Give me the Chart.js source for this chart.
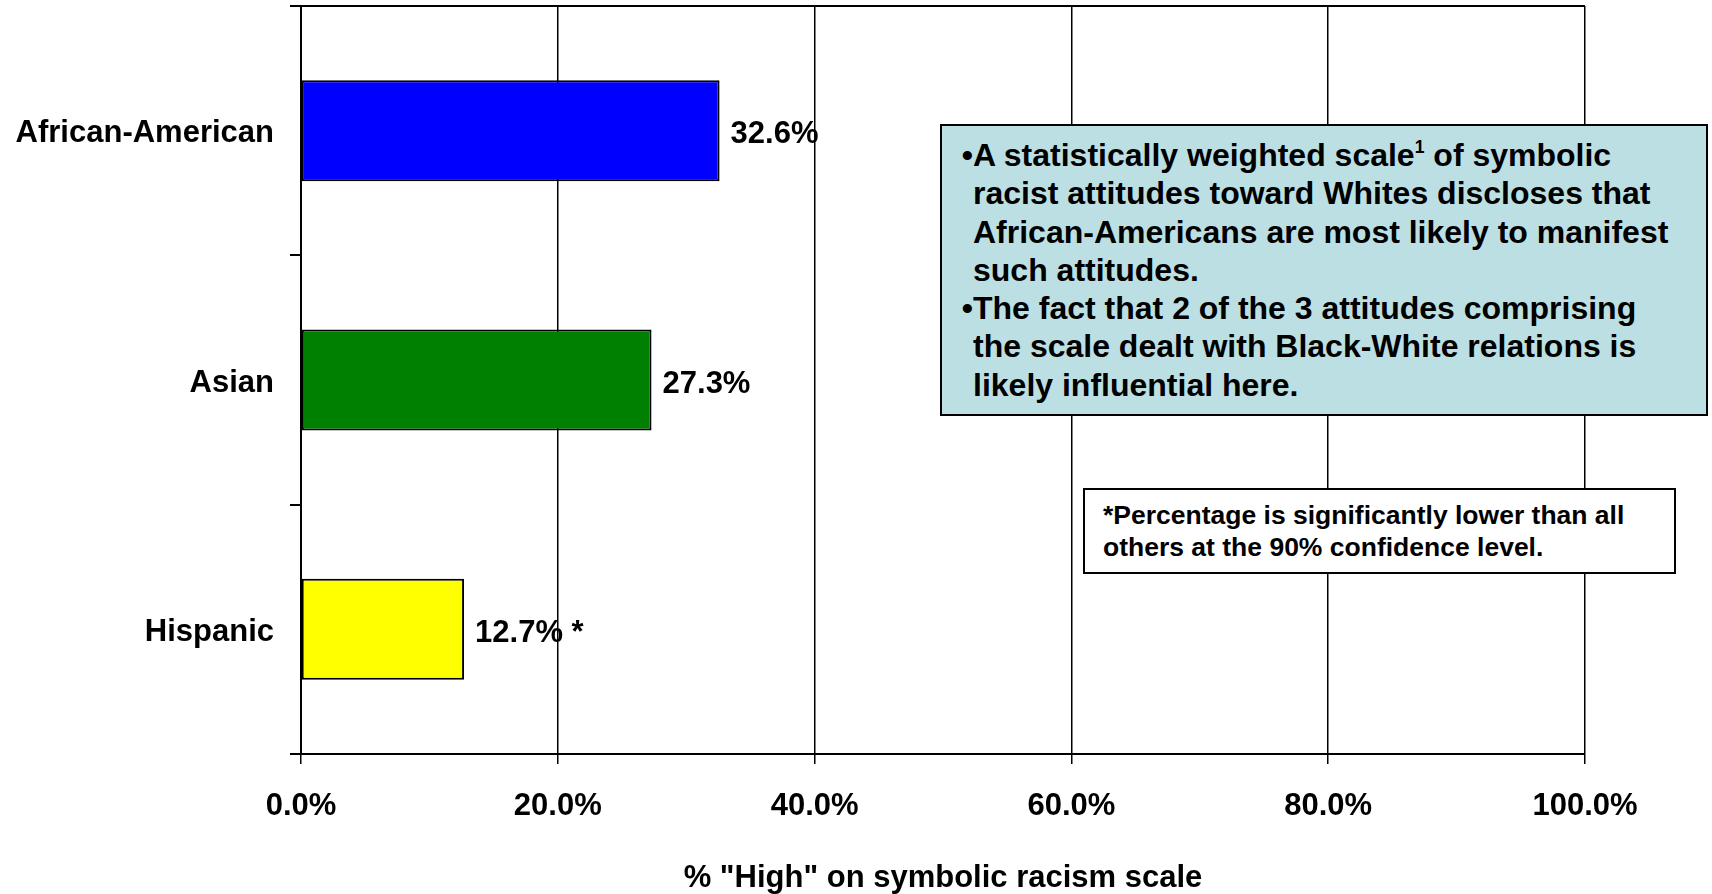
<!DOCTYPE html>
<html>
<head>
<meta charset="utf-8">
<script src="https://cdn.jsdelivr.net/npm/chart.js@4.4.1/dist/chart.umd.min.js"></script>
<style>
  html, body { margin: 0; padding: 0; background: #fff; }
  #wrap { position: relative; width: 1712px; height: 894px; font-family: 'Liberation Sans', Arial, sans-serif; }
  #wrap canvas { position: absolute; left: 0; top: 0; }
  .note-teal {
    position: absolute; left: 940px; top: 124px; width: 768px; height: 292px;
    box-sizing: border-box; border: 2px solid #000; background: #BCDFE3;
    padding: 10px 0 0 14px; font-weight: bold; font-size: 32px; line-height: 38.3px; color: #000;
    white-space: nowrap;
  }
  .note-teal .b { display: inline-block; width: 17px; text-align: right; }
  .note-teal .i { display: inline-block; width: 17px; }
  .note-teal sup { font-size: 0.55em; vertical-align: 0.75em; line-height: 0; }
  .note-sig {
    position: absolute; left: 1083px; top: 488px; width: 593px; height: 86px;
    box-sizing: border-box; border: 2px solid #000; background: #fff;
    padding: 9px 0 0 18px; font-weight: bold; font-size: 26.5px; line-height: 32px; color: #000;
    white-space: nowrap;
  }
</style>
</head>
<body>
<div id="wrap">
  <canvas id="racismChart"></canvas>
  <div class="note-teal">
    <span class="b">•</span>A statistically weighted scale<sup>1</sup> of symbolic<br>
    <span class="i"></span>racist attitudes toward Whites discloses that<br>
    <span class="i"></span>African-Americans are most likely to manifest<br>
    <span class="i"></span>such attitudes.<br>
    <span class="b">•</span>The fact that 2 of the 3 attitudes comprising<br>
    <span class="i"></span>the scale dealt with Black-White relations is<br>
    <span class="i"></span>likely influential here.
  </div>
  <div class="note-sig">
    *Percentage is significantly lower than all<br>
    others at the 90% confidence level.
  </div>
</div>
<script>
/* % scoring "High" on the symbolic racism scale, by group */
const groups = ['African-American', 'Asian', 'Hispanic'];
const highPct = [32.6, 27.3, 12.7];
const valueLabels = ['32.6%', '27.3%', '12.7% *'];
const barColors = ['#0000FF', '#008000', '#FFFF00'];
const xTicks = [0, 20, 40, 60, 80, 100];

const FONT = "'Liberation Sans', Arial, sans-serif";
Chart.defaults.font.family = FONT;
Chart.defaults.color = '#000';

/* value labels just right of each bar */
const barValueLabels = {
  id: 'barValueLabels',
  afterDatasetsDraw(chart) {
    const c = chart.ctx;
    const meta = chart.getDatasetMeta(0);
    c.save();
    c.font = 'bold 31px ' + FONT;
    c.fillStyle = '#000';
    c.textAlign = 'left';
    c.textBaseline = 'middle';
    meta.data.forEach((bar, i) => {
      c.fillText(valueLabels[i], bar.x + 11, bar.y + 4);
    });
    c.restore();
  }
};

const canvas = document.getElementById('racismChart');
canvas.width = 1712;
canvas.height = 894;

new Chart(canvas, {
  type: 'bar',
  data: {
    labels: groups,
    datasets: [{
      data: highPct,
      backgroundColor: barColors,
      borderColor: '#000',
      borderWidth: 2,
      borderSkipped: false,
      barPercentage: 0.405,
      categoryPercentage: 1.0,
    }]
  },
  options: {
    indexAxis: 'y',
    responsive: false,
    animation: false,
    layout: { padding: { top: 6, right: 127, left: 0, bottom: 0 } },
    plugins: { legend: { display: false }, tooltip: { enabled: false } },
    scales: {
      x: {
        type: 'linear', min: 0, max: 100,
        afterBuildTicks: scale => { scale.ticks = xTicks.map(v => ({ value: v })); },
        afterFit: scale => {
          scale.height = 140;
          scale.paddingLeft = 0;
          scale.paddingRight = 0;
        },
        grid: { color: '#000', lineWidth: 1.5, tickLength: 10, tickColor: '#000', tickWidth: 1.5 },
        border: { display: true, color: '#000', width: 2 },
        ticks: {
          padding: 24,
          font: { size: 31, weight: 'bold' },
          callback: v => v.toFixed(1) + '%'
        },
        title: {
          display: true,
          text: '% "High" on symbolic racism scale',
          font: { size: 31, weight: 'bold', lineHeight: 1 },
          padding: { top: 0, bottom: 0 }
        }
      },
      y: {
        afterFit: scale => {
          scale.width = 301;
          scale.paddingTop = 0;
          scale.paddingBottom = 0;
        },
        grid: {
          drawOnChartArea: true,
          color: ctx => (ctx.index === 0 ? '#000' : 'rgba(0,0,0,0)'),
          lineWidth: 2,
          tickColor: '#000',
          tickWidth: 2,
          tickLength: 11
        },
        border: { display: true, color: '#000', width: 2 },
        ticks: { padding: 16, labelOffset: 3, font: { size: 31, weight: 'bold' } }
      }
    }
  },
  plugins: [barValueLabels]
});
</script>
</body>
</html>
